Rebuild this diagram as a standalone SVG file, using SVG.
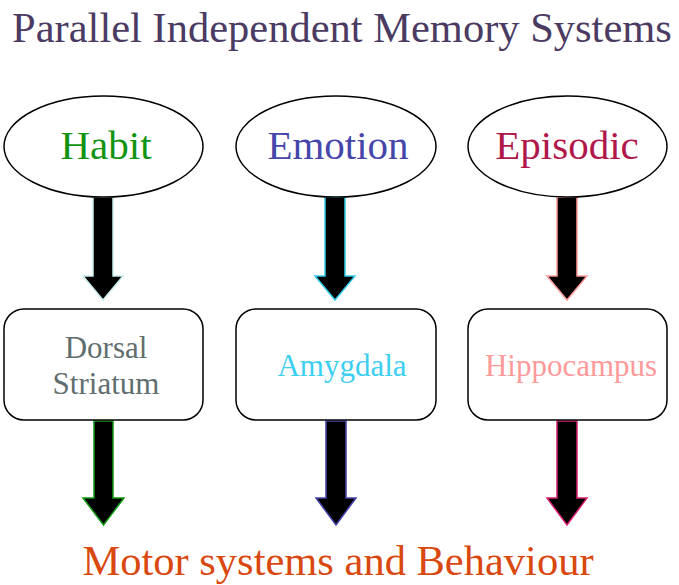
<svg xmlns="http://www.w3.org/2000/svg" width="679" height="585" viewBox="0 0 679 585" font-family="'Liberation Serif','Times New Roman',serif">
<style>
text{font-family:"Liberation Serif","Times New Roman",serif;text-anchor:middle}
.oval{fill:#fff;stroke:#000;stroke-width:1.5}
.box{fill:#fff;stroke:#000;stroke-width:1.5}
.arr{fill:#000;stroke-width:1.5}
.big{font-size:41px}
.mid{font-size:31px}
</style>
<rect width="679" height="585" fill="#fff"/>
<text x="342" y="42" style="font-size:42.5px" fill="#4b3b63">Parallel Independent Memory Systems</text>
<g id="connectors">
<polygon class="arr" stroke="#c8ecec" points="93,197 113,197 113,276 123,276 103,300 83,276 93,276"/>
<polygon class="arr" stroke="#33ccee" points="325,197 345,197 345,276 355,276 335,300 315,276 325,276"/>
<polygon class="arr" stroke="#ff9999" points="557,197 577,197 577,276 587,276 567,300 547,276 557,276"/>
<polygon class="arr" stroke="#119911" points="94,421 113,421 113,498 124,498 103.5,525 83,498 94,498"/>
<polygon class="arr" stroke="#4444aa" points="326,421 346,421 346,498 356,498 336,525 316,498 326,498"/>
<polygon class="arr" stroke="#d82070" points="557,421 577,421 577,498 587,498 567,525 547,498 557,498"/>
</g>
<g id="habit"><ellipse class="oval" cx="103.5" cy="146.5" rx="99.5" ry="50.5"/><text class="big" x="106" y="159" fill="#129412">Habit</text></g>
<g id="emotion"><ellipse class="oval" cx="336" cy="146.5" rx="100" ry="50.5"/><text class="big" x="338" y="159" fill="#4646aa">Emotion</text></g>
<g id="episodic"><ellipse class="oval" cx="567.5" cy="146.5" rx="99.5" ry="50.5"/><text class="big" x="567" y="159" fill="#b0184a">Episodic</text></g>
<g id="dorsal-striatum"><rect class="box" x="4" y="309" width="199" height="111" rx="20"/><text class="mid" x="106" y="358" fill="#5f6e6e">Dorsal</text><text class="mid" x="106" y="394" fill="#5f6e6e">Striatum</text></g>
<g id="amygdala"><rect class="box" x="236" y="309" width="200" height="111" rx="20"/><text class="mid" x="342" y="376" fill="#3ccff2">Amygdala</text></g>
<g id="hippocampus"><rect class="box" x="468" y="309" width="199" height="111" rx="20"/><text class="mid" x="571" y="376" fill="#ff9a9a">Hippocampus</text></g>
<g id="motor"><text x="338" y="575" style="font-size:42.5px" fill="#d9480f">Motor systems and Behaviour</text></g>
</svg>
